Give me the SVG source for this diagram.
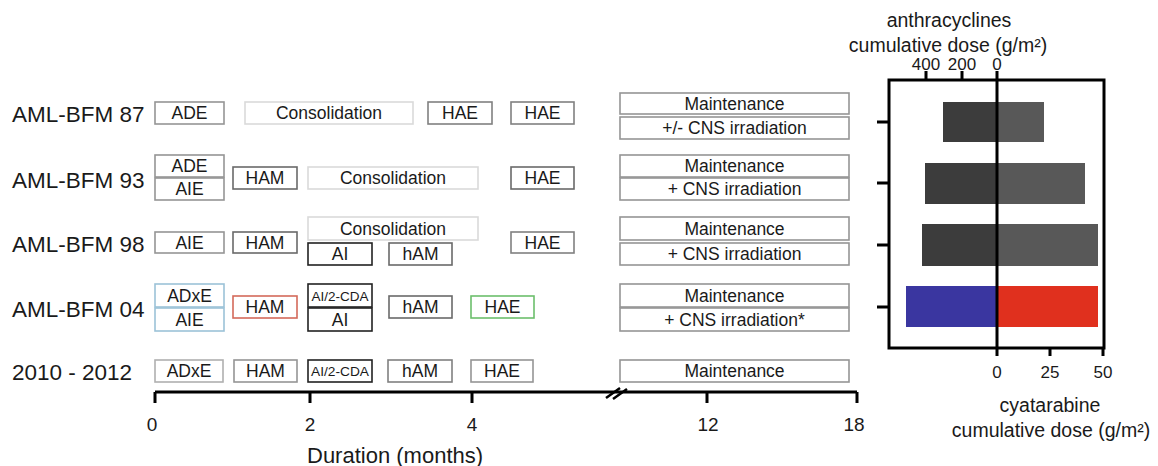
<svg xmlns="http://www.w3.org/2000/svg" width="1158" height="466" viewBox="0 0 1158 466">
<style>
text{font-family:"Liberation Sans",Arial,sans-serif;fill:#1a1a1a}
.lbl{font-size:22.5px}
.bt{font-size:17.5px;text-anchor:middle}
.sm{font-size:13.5px;text-anchor:middle}
.ax{font-size:19px;text-anchor:middle}
.ct{font-size:17px;text-anchor:middle}
.tt{font-size:19.5px;text-anchor:middle}
rect.b{fill:#fff;stroke-width:1.6}
.g1{stroke:#959595}.g0{stroke:#dadada}.g2{stroke:#6a6a6a}.g3{stroke:#808080}.k{stroke:#222}
.blu{stroke:#9cc2d8}.red{stroke:#d46a5a}.grn{stroke:#6cbf6c}.g4{stroke:#b0b0b0}
.ln{stroke:#000;stroke-width:3;fill:none}
</style>
<rect width="1158" height="466" fill="#fff"/>

<g id="row-87">
<text class="lbl" x="12" y="122">AML-BFM 87</text>
<g id="r87-ade"><rect class="b g1" x="155" y="102" width="69" height="22"/><text class="bt" x="189.5" y="119">ADE</text></g>
<g id="r87-cons"><rect class="b g0" x="245" y="102" width="168" height="22"/><text class="bt" x="329" y="119">Consolidation</text></g>
<g id="r87-hae1"><rect class="b g3" x="428" y="102" width="64" height="22"/><text class="bt" x="460" y="119">HAE</text></g>
<g id="r87-hae2"><rect class="b g3" x="511" y="102" width="63" height="22"/><text class="bt" x="542.5" y="119">HAE</text></g>
<g id="r87-maint"><rect class="b g1" x="620" y="93" width="229" height="21"/><text class="bt" x="734.5" y="110">Maintenance</text></g>
<g id="r87-cns"><rect class="b g1" x="620" y="117" width="229" height="22"/><text class="bt" x="734.5" y="134">+/- CNS irradiation</text></g>
</g>

<g id="row-93">
<text class="lbl" x="12" y="188">AML-BFM 93</text>
<g id="r93-ade"><rect class="b g1" x="155" y="155" width="69" height="22"/><text class="bt" x="189.5" y="172">ADE</text></g>
<g id="r93-aie"><rect class="b g1" x="155" y="178" width="69" height="22"/><text class="bt" x="189.5" y="195">AIE</text></g>
<g id="r93-ham"><rect class="b g2" x="233" y="167" width="64" height="22"/><text class="bt" x="265" y="184">HAM</text></g>
<g id="r93-cons"><rect class="b g0" x="308" y="167" width="170" height="22"/><text class="bt" x="393" y="184">Consolidation</text></g>
<g id="r93-hae"><rect class="b g2" x="511" y="167" width="63" height="22"/><text class="bt" x="542.5" y="184">HAE</text></g>
<g id="r93-maint"><rect class="b g1" x="620" y="155" width="229" height="22"/><text class="bt" x="734.5" y="172">Maintenance</text></g>
<g id="r93-cns"><rect class="b g1" x="620" y="178" width="229" height="22"/><text class="bt" x="734.5" y="195">+ CNS irradiation</text></g>
</g>

<g id="row-98">
<text class="lbl" x="12" y="252">AML-BFM 98</text>
<g id="r98-aie"><rect class="b g1" x="155" y="232" width="69" height="21"/><text class="bt" x="189.5" y="249">AIE</text></g>
<g id="r98-ham"><rect class="b g2" x="233" y="232" width="64" height="21"/><text class="bt" x="265" y="249">HAM</text></g>
<g id="r98-cons"><rect class="b g0" x="308" y="217" width="170" height="23"/><text class="bt" x="393" y="235">Consolidation</text></g>
<g id="r98-ai"><rect class="b k" x="308" y="243" width="64" height="22"/><text class="bt" x="340" y="260">AI</text></g>
<g id="r98-ham2"><rect class="b g2" x="389" y="243" width="63" height="22"/><text class="bt" x="420.5" y="260">hAM</text></g>
<g id="r98-hae"><rect class="b g3" x="511" y="232" width="63" height="21"/><text class="bt" x="542.5" y="249">HAE</text></g>
<g id="r98-maint"><rect class="b g1" x="620" y="217" width="229" height="23"/><text class="bt" x="734.5" y="235">Maintenance</text></g>
<g id="r98-cns"><rect class="b g1" x="620" y="243" width="229" height="22"/><text class="bt" x="734.5" y="260">+ CNS irradiation</text></g>
</g>

<g id="row-04">
<text class="lbl" x="12" y="317">AML-BFM 04</text>
<g id="r04-adxe"><rect class="b blu" x="155" y="284" width="69" height="23"/><text class="bt" x="189.5" y="302">ADxE</text></g>
<g id="r04-aie"><rect class="b blu" x="155" y="308" width="69" height="23"/><text class="bt" x="189.5" y="326">AIE</text></g>
<g id="r04-ham"><rect class="b red" x="233" y="296" width="64" height="22"/><text class="bt" x="265" y="313">HAM</text></g>
<g id="r04-ai2cda"><rect class="b k" x="308" y="284" width="64" height="23"/><text class="sm" x="340" y="300.5">AI/2-CDA</text></g>
<g id="r04-ai"><rect class="b k" x="308" y="308" width="64" height="23"/><text class="bt" x="340" y="326">AI</text></g>
<g id="r04-ham2"><rect class="b g2" x="389" y="296" width="63" height="22"/><text class="bt" x="420.5" y="313">hAM</text></g>
<g id="r04-hae"><rect class="b grn" x="471" y="296" width="63" height="22"/><text class="bt" x="502.5" y="313">HAE</text></g>
<g id="r04-maint"><rect class="b g1" x="620" y="284" width="229" height="23"/><text class="bt" x="734.5" y="302">Maintenance</text></g>
<g id="r04-cns"><rect class="b g1" x="620" y="308" width="229" height="23"/><text class="bt" x="734.5" y="326">+ CNS irradiation*</text></g>
</g>

<g id="row-2010">
<text class="lbl" x="12" y="380">2010 - 2012</text>
<g id="r10-adxe"><rect class="b g4" x="155" y="360" width="68" height="22"/><text class="bt" x="189" y="377">ADxE</text></g>
<g id="r10-ham"><rect class="b g1" x="234" y="360" width="63" height="22"/><text class="bt" x="265.5" y="377">HAM</text></g>
<g id="r10-ai2cda"><rect class="b k" x="308" y="360" width="64" height="22"/><text class="sm" x="340" y="375.5" style="font-size:12px" textLength="58" lengthAdjust="spacingAndGlyphs">AI/2-CDA</text></g>
<g id="r10-ham2"><rect class="b g3" x="388" y="360" width="64" height="22"/><text class="bt" x="420" y="377">hAM</text></g>
<g id="r10-hae"><rect class="b g1" x="471" y="360" width="62" height="22"/><text class="bt" x="502" y="377">HAE</text></g>
<g id="r10-maint"><rect class="b g1" x="620" y="360" width="229" height="22"/><text class="bt" x="734.5" y="377">Maintenance</text></g>
</g>

<g id="connectors">
<g id="time-axis">
<path class="ln" d="M155,392 H857 M155,392 V403 M310,392 V403 M472,392 V403 M707,392 V403 M857,392 V403"/>
<path d="M606,398 L620,388 M613,399 L627,389" stroke="#000" stroke-width="2.5" fill="none"/>
<text class="ax" x="152" y="431">0</text>
<text class="ax" x="310" y="431">2</text>
<text class="ax" x="472" y="431">4</text>
<text class="ax" x="708" y="431">12</text>
<text class="ax" x="854" y="431">18</text>
<text x="307" y="463" style="font-size:22px">Duration (months)</text>
</g>
</g>

<g id="dose-chart">
<rect x="943" y="102" width="54" height="40" fill="#3c3c3c"/>
<rect x="997" y="102" width="47" height="40" fill="#585858"/>
<rect x="925" y="163" width="72" height="41" fill="#3c3c3c"/>
<rect x="997" y="163" width="88" height="41" fill="#585858"/>
<rect x="922" y="224" width="75" height="42" fill="#3c3c3c"/>
<rect x="997" y="224" width="101" height="42" fill="#585858"/>
<rect x="906" y="286" width="91" height="41" fill="#3a36a0"/>
<rect x="997" y="286" width="101" height="41" fill="#e0301e"/>
<rect class="ln" x="889" y="80" width="215" height="268"/>
<path class="ln" d="M997,71 V356 M926,71 V80 M962,71 V80 M1050,348 V356 M1103,348 V356 M877,122 H889 M877,183 H889 M877,245 H889 M877,307 H889"/>
<text class="ct" x="926" y="70">400</text>
<text class="ct" x="962" y="70">200</text>
<text class="ct" x="997" y="70">0</text>
<text class="ct" x="997" y="378">0</text>
<text class="ct" x="1050" y="378">25</text>
<text class="ct" x="1103" y="378">50</text>
<text class="tt" x="949" y="27">anthracyclines</text>
<text class="tt" x="948" y="52">cumulative dose (g/m²)</text>
<text class="tt" x="1050" y="412">cyatarabine</text>
<text class="tt" x="1051" y="437">cumulative dose (g/m²)</text>
</g>
</svg>
